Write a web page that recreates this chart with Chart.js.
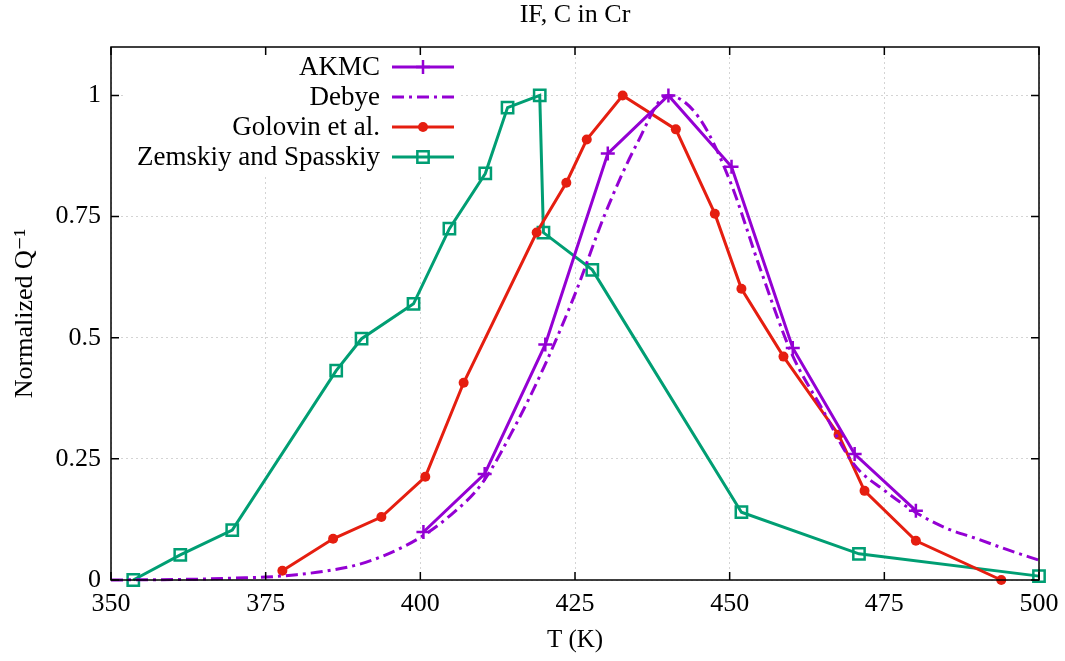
<!DOCTYPE html>
<html>
<head>
<meta charset="utf-8">
<script src="https://cdn.jsdelivr.net/npm/chart.js@4"></script>
<style>
  html, body { margin: 0; padding: 0; background: #fff; }
  #wrap { width: 1065px; height: 661px; }
</style>
</head>
<body>
<div id="wrap"><canvas id="chart" width="1065" height="661"></canvas></div>
<script>
// data
const akmcT = [400.5, 410.4, 420.2, 430.3, 440.1, 450.3, 460.2, 470.2, 480.1];
const akmcQ = [0.099, 0.219, 0.486, 0.880, 1.0, 0.853, 0.479, 0.260, 0.143];

const debyeT = [350, 355, 360, 365, 370, 375, 380, 385, 390, 395, 400, 405, 410, 415, 420, 425, 430, 435, 440, 445, 450, 455, 460, 465, 470, 475, 480, 485, 490, 495, 500];
const debyeQ = [0.0, 0.0005, 0.001, 0.002, 0.004, 0.006, 0.011, 0.019, 0.032, 0.055, 0.088, 0.135, 0.20, 0.31, 0.44, 0.59, 0.76, 0.90, 1.0, 0.955, 0.825, 0.64, 0.468, 0.352, 0.24, 0.185, 0.14, 0.107, 0.085, 0.062, 0.041];

const golovinT = [377.7, 385.9, 393.7, 400.8, 407.0, 418.8, 423.6, 426.9, 432.7, 441.3, 447.6, 451.9, 458.7, 467.6, 471.8, 480.1, 493.9];
const golovinQ = [0.019, 0.085, 0.130, 0.213, 0.407, 0.717, 0.820, 0.909, 1.0, 0.930, 0.756, 0.601, 0.461, 0.300, 0.184, 0.081, 0.0];

const zemskiyT = [353.6, 361.2, 369.6, 386.4, 390.5, 398.9, 404.7, 410.5, 414.1, 419.3, 419.9, 427.8, 451.9, 470.9, 500];
const zemskiyQ = [0.0, 0.052, 0.103, 0.432, 0.498, 0.570, 0.725, 0.839, 0.975, 1.0, 0.717, 0.640, 0.140, 0.054, 0.008];

const xTicks = [350, 375, 400, 425, 450, 475, 500];
const yTicks = [0, 0.25, 0.5, 0.75, 1];

const PURPLE = "#9400d3";
const RED = "#e51e10";
const GREEN = "#009e73";
const FONT = "'Liberation Serif', 'DejaVu Serif', serif";

const toXY = (xs, ys) => xs.map((x, i) => ({ x, y: ys[i] }));

// ---------------- plugins ----------------
// box around the plot + inward tick marks on all four sides
const frame = {
  id: "frame",
  afterDraw(chart) {
    const { ctx, chartArea: a, scales } = chart;
    ctx.save();
    ctx.strokeStyle = "#000";
    ctx.lineWidth = 1.5;
    ctx.strokeRect(a.left, a.top, a.right - a.left, a.bottom - a.top);
    ctx.beginPath();
    xTicks.forEach(t => {
      const px = scales.x.getPixelForValue(t);
      ctx.moveTo(px, a.bottom); ctx.lineTo(px, a.bottom - 8);
      ctx.moveTo(px, a.top); ctx.lineTo(px, a.top + 8);
    });
    yTicks.forEach(t => {
      const py = scales.y.getPixelForValue(t);
      ctx.moveTo(a.left, py); ctx.lineTo(a.left + 8, py);
      ctx.moveTo(a.right, py); ctx.lineTo(a.right - 8, py);
    });
    ctx.stroke();

    // title over the plot area
    ctx.fillStyle = "#000";
    ctx.font = "26px " + FONT;
    ctx.textAlign = "center";
    ctx.textBaseline = "middle";
    ctx.fillText("IF, C in Cr", (a.left + a.right) / 2, 15);
    ctx.restore();
  }
};

// gnuplot-style key: text on the left, sample on the right
const key = {
  id: "key",
  afterDatasetsDraw(chart) {
    const { ctx } = chart;
    const rows = [67, 97, 127, 157];
    ctx.save();
    ctx.fillStyle = "#fff";
    ctx.fillRect(126, 52, 334, 122);
    chart.data.datasets.forEach((ds, i) => {
      const y = rows[i];
      ctx.fillStyle = "#000";
      ctx.font = "27px " + FONT;
      ctx.textAlign = "right";
      ctx.textBaseline = "middle";
      ctx.fillText(ds.label, 380, y + 1);

      ctx.strokeStyle = ds.borderColor;
      ctx.lineWidth = ds.borderWidth;
      ctx.setLineDash(ds.borderDash || []);
      ctx.beginPath();
      ctx.moveTo(392, y);
      ctx.lineTo(454, y);
      ctx.stroke();
      ctx.setLineDash([]);

      if (ds.pointRadius > 0) {
        ctx.fillStyle = ds.pointBackgroundColor;
        ctx.strokeStyle = ds.borderColor;
        ctx.lineWidth = ds.pointBorderWidth;
        Chart.helpers.drawPoint(ctx, { pointStyle: ds.pointStyle, radius: ds.pointRadius, borderWidth: ds.pointBorderWidth }, 423, y);
      }
    });
    ctx.restore();
  }
};

// ---------------- chart ----------------
const ctx = document.getElementById("chart").getContext("2d");
new Chart(ctx, {
  type: "line",
  data: {
    datasets: [
      {
        label: "AKMC",
        data: toXY(akmcT, akmcQ),
        borderColor: PURPLE, backgroundColor: PURPLE,
        borderWidth: 3, pointStyle: "cross", pointRadius: 7, pointBorderWidth: 2.5,
        pointBackgroundColor: PURPLE, tension: 0
      },
      {
        label: "Debye",
        data: toXY(debyeT, debyeQ),
        borderColor: PURPLE, backgroundColor: PURPLE,
        borderWidth: 3, borderDash: [12, 5, 3, 5], pointRadius: 0, pointBorderWidth: 0,
        cubicInterpolationMode: "monotone"
      },
      {
        label: "Golovin et al.",
        data: toXY(golovinT, golovinQ),
        borderColor: RED, backgroundColor: RED,
        borderWidth: 3, pointStyle: "circle", pointRadius: 5, pointBorderWidth: 0,
        pointBackgroundColor: RED, tension: 0
      },
      {
        label: "Zemskiy and Spasskiy",
        data: toXY(zemskiyT, zemskiyQ),
        borderColor: GREEN, backgroundColor: GREEN,
        borderWidth: 3, pointStyle: "rect", pointRadius: 8, pointBorderWidth: 2.5,
        pointBackgroundColor: "rgba(255,255,255,0)", tension: 0
      }
    ]
  },
  options: {
    responsive: false,
    animation: false,
    clip: false,
    layout: { padding: { top: 47, right: 26, left: 0, bottom: 0 } },
    plugins: {
      legend: { display: false },
      title: { display: false },
      tooltip: { enabled: false }
    },
    scales: {
      x: {
        type: "linear",
        min: 350, max: 500,
        afterFit: s => { s.height = 81; s.paddingLeft = 0; s.paddingRight = 0; },
        afterBuildTicks: s => { s.ticks = xTicks.map(v => ({ value: v })); },
        ticks: { font: { family: FONT, size: 26 }, color: "#000", padding: 9, maxRotation: 0 },
        grid: { color: "#d4d4d4", lineWidth: 1, drawTicks: false },
        border: { display: false, dash: [2, 3] },
        title: { display: true, text: "T (K)", font: { family: FONT, size: 25 }, color: "#000", padding: { top: 0, bottom: 6 } }
      },
      y: {
        min: 0, max: 1.1,
        afterFit: s => { s.width = 111; s.paddingTop = 0; s.paddingBottom = 0; },
        afterBuildTicks: s => { s.ticks = yTicks.map(v => ({ value: v })); },
        ticks: { font: { family: FONT, size: 26 }, color: "#000", padding: 10, callback: v => String(v) },
        grid: { color: "#d4d4d4", lineWidth: 1, drawTicks: false },
        border: { display: false, dash: [2, 3] },
        title: { display: true, text: "Normalized Q⁻¹", font: { family: FONT, size: 26 }, color: "#000", padding: { top: 10, bottom: 0 } }
      }
    }
  },
  plugins: [frame, key]
});
</script>
</body>
</html>
